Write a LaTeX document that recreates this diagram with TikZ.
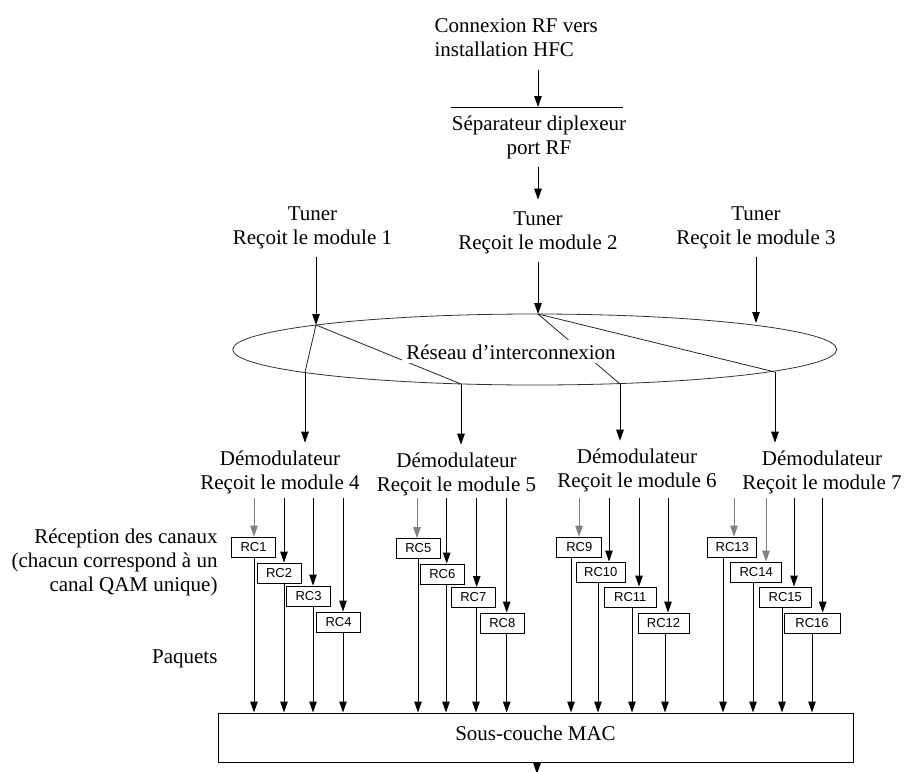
\documentclass[tikz,border=0pt]{standalone}
\usepackage{fontspec}
\setmainfont{Liberation Serif}
\newfontfamily\rcfont{Liberation Sans}
\usetikzlibrary{arrows.meta}
\definecolor{feedgray}{gray}{0.5}
\newcommand\twoC[2]{\begin{tabular}[t]{@{}c@{}}#1\\#2\end{tabular}}
\begin{document}
\begin{tikzpicture}[x=1pt,y=-1pt,line width=1pt,
  >={Triangle[length=11pt,width=7.5pt]},
  lbl/.style={font=\fontsize{21}{24}\selectfont,inner sep=2pt,anchor=base},
  rcbox/.style={draw,line width=0.9pt,fill=white,minimum height=20pt,inner sep=0pt,font=\rcfont\fontsize{13}{15}\selectfont},
  netline/.style={line width=0.8pt,black!85}]
\useasboundingbox (0,0) rectangle (904,771);

% top
\node[lbl,anchor=base west] (conn) at (432,32) {\begin{tabular}[t]{@{}l@{}}Connexion RF vers\\installation HFC\end{tabular}};
\coordinate (split) at (538,107);
\coordinate (sl) at (451,107);
\coordinate (sr) at (623,107);
\draw (sl) -- (sr);
\draw[->,shorten <=4pt] (conn.south -| split) -- (split);
\node[lbl] (sep) at (539,130) {\twoC{Séparateur diplexeur}{port RF}};

% tuners
\node[lbl] (t1) at (312.5,220) {\twoC{Tuner}{Reçoit le module 1}};
\node[lbl] (t2) at (538,225) {\twoC{Tuner}{Reçoit le module 2}};
\node[lbl] (t3) at (756,220) {\twoC{Tuner}{Reçoit le module 3}};
\draw[->,shorten <=3pt,shorten >=6pt] (sep.south -| split) -- (split |- t2.north);

% interconnection network
\draw[line width=0.8pt,black!80] (534.7,349.5) ellipse [x radius=302pt,y radius=35.5pt];
\coordinate (e1) at (316,325);
\coordinate (e2) at (538,314);
\coordinate (e3) at (756,323);
\coordinate (b4) at (305,372);
\coordinate (b5) at (461,384);
\coordinate (b6) at (620,384);
\coordinate (b7) at (775,372);
\draw[->,shorten <=3pt] (t1.south -| e1) -- (e1);
\draw[->,shorten <=3pt] (t2.south -| e2) -- (e2);
\draw[->,shorten <=3pt] (t3.south -| e3) -- (e3);
\draw[netline] (e1) -- (b4);
\draw[netline] (e1) -- (b5);
\draw[netline] (e2) -- (b6);
\draw[netline] (e2) -- (b7);
\node[lbl,fill=white,inner sep=4pt] (net) at (511,359) {Réseau d’interconnexion};

% demodulators
\node[lbl] (d4) at (280,465) {\twoC{Démodulateur}{Reçoit le module 4}};
\node[lbl] (d5) at (456.5,467) {\twoC{Démodulateur}{Reçoit le module 5}};
\node[lbl] (d6) at (637,463) {\twoC{Démodulateur}{Reçoit le module 6}};
\node[lbl] (d7) at (822,465) {\twoC{Démodulateur}{Reçoit le module 7}};
\draw[->,shorten >=3pt] (b4) -- (b4 |- d4.north);
\draw[->,shorten >=3pt] (b5) -- (b5 |- d5.north);
\draw[->,shorten >=3pt] (b6) -- (b6 |- d6.north);
\draw[->,shorten >=3pt] (b7) -- (b7 |- d7.north);

% side labels
\node[lbl,anchor=base east] (rec) at (220,543) {\begin{tabular}[t]{@{}r@{}}Réception des canaux\\(chacun correspond à un\\canal QAM unique)\end{tabular}};
\node[lbl,anchor=base east] (paq) at (220,663) {Paquets};

% MAC
\node[draw,minimum width=635pt,minimum height=49pt,inner sep=0pt,text depth=9pt,font=\fontsize{21}{24}\selectfont] (mac) at (535.5,737.5) {Sous-couche MAC};
\coordinate (macout) at (537,774);
\draw[->] (mac.south -| macout) -- (macout);

% receive channels
\foreach \n/\cx/\cy/\w/\xi/\xo/\c in {
  1/253.5/547/44/254/254/feedgray,
  2/279/573/44/284/284/black,
  3/308.5/596/44/313/313/black,
  4/338.5/622/44/343/343/black,
  5/418.3/548.5/44/417/418/feedgray,
  6/442.3/574/44/446.7/446/black,
  7/473.3/597.5/44/476.7/476/black,
  8/502.3/623/44/506.7/506.7/black,
  9/579.3/547/45/579/571/feedgray,
  10/600.8/572/49/609/598/black,
  11/630.3/597/52/639/632/black,
  12/663.5/623/51/668/665/black,
  13/732.3/547/49/734/723/feedgray,
  14/756.2/572/51/766/753/feedgray,
  15/785.3/597/52/794/782/black,
  16/812/623/56/822.7/812/black}{
  \node[rcbox,minimum width=\w pt] (rc\n) at (\cx,\cy) {RC\n};
  \coordinate (in\n) at (\xi,498);
  \coordinate (out\n) at (\xo,713);
  \draw[->,color=\c] (in\n) -- (in\n |- rc\n.north);
  \draw[->] (out\n |- rc\n.south) -- (out\n |- mac.north);
}
\end{tikzpicture}
\end{document}
